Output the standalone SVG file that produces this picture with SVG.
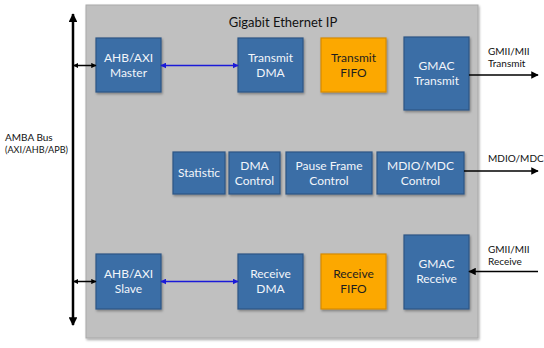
<svg xmlns="http://www.w3.org/2000/svg" width="544" height="348" viewBox="0 0 544 348">
<defs>
<style>
text{font-family:Lato,"Liberation Sans",sans-serif;}
.blk rect{fill:#3b6ea6;stroke:#2c5585;stroke-width:1.2;}
.org rect{fill:#fca800;stroke:#d68a00;stroke-width:1.2;}
.blk text{fill:#f2f5fa;font-size:12px;text-anchor:middle;}
.org text{fill:#1e1e1e;font-size:12px;text-anchor:middle;}
.lbl{font-size:10px;fill:#111;}
.ln{stroke:#000;stroke-width:1.5;fill:none;}
.bl{stroke:#1a1ad8;stroke-width:1.5;fill:none;}
</style>
<marker id="ak" viewBox="0 0 10 10" refX="9" refY="5" markerWidth="5" markerHeight="5" orient="auto-start-reverse"><path d="M0,0 L10,5 L0,10 z" fill="#000"/></marker>
<marker id="ab" viewBox="0 0 10 10" refX="9" refY="5" markerWidth="4" markerHeight="4" orient="auto-start-reverse"><path d="M0,0 L10,5 L0,10 z" fill="#1a1ad8"/></marker>
<marker id="abus" viewBox="0 0 10 10" refX="9" refY="5" markerWidth="3.5" markerHeight="3.5" orient="auto-start-reverse"><path d="M0,0 L10,5 L0,10 z" fill="#000"/></marker>
<filter id="sh" x="-10%" y="-10%" width="130%" height="130%"><feDropShadow dx="1" dy="1.5" stdDeviation="1" flood-color="#000" flood-opacity="0.35"/></filter>
</defs>

<g id="ip">
<rect x="86" y="5" width="392" height="333" fill="#c0c0c0" stroke="#a9a9a9" stroke-width="1" filter="url(#sh)"/>
<text x="283" y="27" font-size="13" text-anchor="middle" fill="#111">Gigabit Ethernet IP</text>
</g>

<g id="amba">
<text class="lbl" x="5" y="141">AMBA Bus</text>
<text class="lbl" x="5" y="153" textLength="63" lengthAdjust="spacingAndGlyphs">(AXI/AHB/APB)</text>
</g>

<g id="master" class="blk"><rect x="96" y="38" width="65" height="54" filter="url(#sh)"/><text x="128.5" y="62">AHB/AXI</text><text x="128.5" y="77">Master</text></g>
<g id="txdma" class="blk"><rect x="238" y="38" width="65" height="54" filter="url(#sh)"/><text x="270.5" y="62">Transmit</text><text x="270.5" y="77">DMA</text></g>
<g id="txfifo" class="org"><rect x="321" y="38" width="65" height="54" filter="url(#sh)"/><text x="353.5" y="62">Transmit</text><text x="353.5" y="77">FIFO</text></g>
<g id="gmactx" class="blk"><rect x="404" y="37" width="65" height="73" filter="url(#sh)"/><text x="436.5" y="70">GMAC</text><text x="436.5" y="85">Transmit</text></g>

<g id="statistic" class="blk"><rect x="173" y="152" width="52" height="42" filter="url(#sh)"/><text x="199" y="177">Statistic</text></g>
<g id="dmactrl" class="blk"><rect x="229" y="152" width="51" height="42" filter="url(#sh)"/><text x="254.5" y="170">DMA</text><text x="254.5" y="185">Control</text></g>
<g id="pause" class="blk"><rect x="286" y="152" width="86" height="42" filter="url(#sh)"/><text x="329" y="170">Pause Frame</text><text x="329" y="185">Control</text></g>
<g id="mdio" class="blk"><rect x="377" y="152" width="87" height="42" filter="url(#sh)"/><text x="420.5" y="170">MDIO/MDC</text><text x="420.5" y="185">Control</text></g>

<g id="slave" class="blk"><rect x="96" y="254" width="65" height="55" filter="url(#sh)"/><text x="128.5" y="278">AHB/AXI</text><text x="128.5" y="293">Slave</text></g>
<g id="rxdma" class="blk"><rect x="238" y="254" width="65" height="55" filter="url(#sh)"/><text x="270.5" y="278">Receive</text><text x="270.5" y="293">DMA</text></g>
<g id="rxfifo" class="org"><rect x="321" y="254" width="65" height="55" filter="url(#sh)"/><text x="353.5" y="278">Receive</text><text x="353.5" y="293">FIFO</text></g>
<g id="gmacrx" class="blk"><rect x="404" y="235" width="65" height="74" filter="url(#sh)"/><text x="436.5" y="268">GMAC</text><text x="436.5" y="283">Receive</text></g>

<g id="labels">
<text class="lbl" x="488" y="55">GMII/MII</text>
<text class="lbl" x="488" y="67">Transmit</text>
<text class="lbl" x="488" y="162">MDIO/MDC</text>
<text class="lbl" x="488" y="253">GMII/MII</text>
<text class="lbl" x="488" y="265">Receive</text>
</g>

<g id="connectors">
<line x1="73" y1="14" x2="73" y2="325" stroke="#000" stroke-width="2.5" marker-start="url(#abus)" marker-end="url(#abus)"/>
<line class="ln" x1="73.5" y1="65.5" x2="96" y2="65.5" marker-start="url(#abus)" marker-end="url(#abus)"/>
<line class="ln" x1="73.5" y1="281.5" x2="96" y2="281.5" marker-start="url(#abus)" marker-end="url(#abus)"/>
<line class="bl" x1="161" y1="65.5" x2="238" y2="65.5" marker-start="url(#ab)" marker-end="url(#ab)"/>
<line class="bl" x1="161" y1="281.5" x2="238" y2="281.5" marker-start="url(#ab)" marker-end="url(#ab)"/>
<line class="ln" x1="469" y1="75" x2="538" y2="75" marker-end="url(#ak)"/>
<line class="ln" x1="464" y1="171" x2="538" y2="171" marker-end="url(#ak)"/>
<line class="ln" x1="538" y1="271.5" x2="469" y2="271.5" marker-end="url(#ak)"/>
</g>
</svg>
